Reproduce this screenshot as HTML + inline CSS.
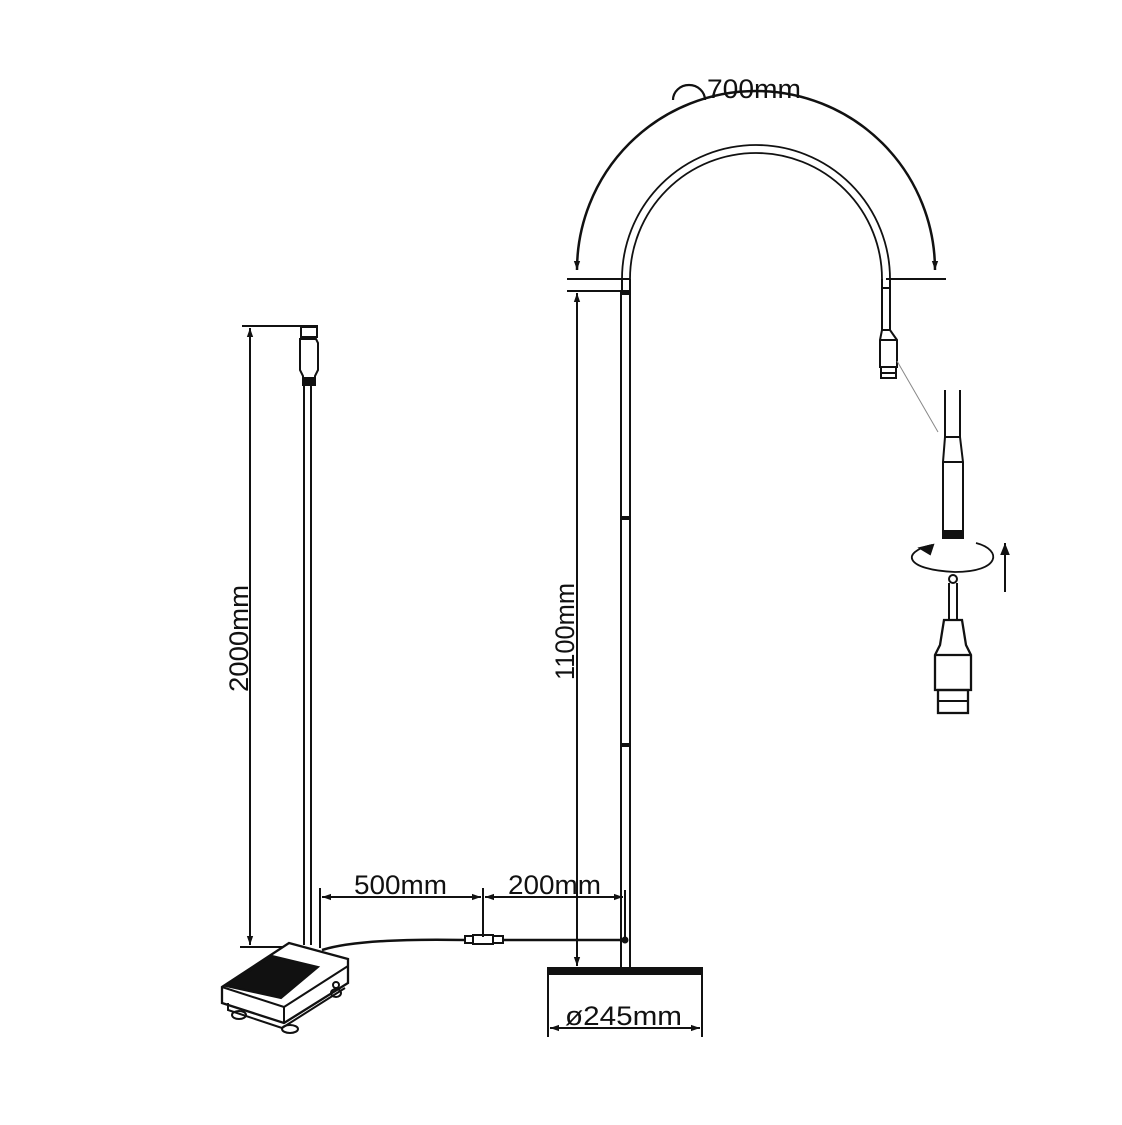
<!DOCTYPE html>
<html><head><meta charset="utf-8"><style>
html,body{margin:0;padding:0;background:#fff;}
svg{display:block;}
text{font-family:"Liberation Sans",sans-serif;fill:#111;}
</style></head><body>
<svg width="1122" height="1125" viewBox="0 0 1122 1125" xmlns="http://www.w3.org/2000/svg">
<defs>
<marker id="ar" viewBox="0 0 10 10" refX="10" refY="5" markerWidth="11" markerHeight="9" orient="auto-start-reverse" markerUnits="userSpaceOnUse"><path d="M0,1.5 L10,5 L0,8.5 z" fill="#111"/></marker>
<marker id="ar2" viewBox="0 0 10 10" refX="10" refY="5" markerWidth="16" markerHeight="12" orient="auto" markerUnits="userSpaceOnUse"><path d="M0,1 L10,5 L0,9 z" fill="#111"/></marker>
</defs>
<g stroke="#111" fill="none" stroke-width="2">
<path d="M577,270 A179,179 0 0 1 935,270" stroke-width="2.5" marker-start="url(#ar)" marker-end="url(#ar)"/>
<line x1="567" y1="279" x2="630" y2="279"/>
<line x1="886" y1="279" x2="946" y2="279"/>
<line x1="567" y1="291" x2="630" y2="291"/>
<path d="M673,100 A16,15 0 0 1 705,100" stroke-width="2.2"/>
<path d="M622,279 A134,134 0 0 1 890,279" stroke-width="1.8"/>
<path d="M630,279 A126,126 0 0 1 882,279" stroke-width="1.8"/>
<line x1="622" y1="279" x2="622" y2="291"/><line x1="630" y1="279" x2="630" y2="291"/>
<line x1="882" y1="279" x2="882" y2="330"/><line x1="890" y1="279" x2="890" y2="330"/>
<line x1="882" y1="288" x2="890" y2="288"/>
<path d="M882,330 L880,340 L880,367 L897,367 L897,340 L890,330 Z"/>
<line x1="880" y1="340" x2="897" y2="340"/>
<rect x="881" y="367" width="15" height="11"/>
<line x1="881" y1="373" x2="896" y2="373"/>
<line x1="621" y1="291" x2="621" y2="968"/><line x1="630" y1="291" x2="630" y2="968"/>
<line x1="621" y1="293" x2="630" y2="293" stroke-width="4"/>
<line x1="621" y1="518" x2="630" y2="518" stroke-width="4"/>
<line x1="621" y1="745" x2="630" y2="745" stroke-width="4"/>
<line x1="577" y1="293" x2="577" y2="966" marker-start="url(#ar)" marker-end="url(#ar)"/>
<rect x="548" y="968" width="154" height="6" fill="#111"/>
<line x1="548" y1="975" x2="548" y2="1037"/><line x1="702" y1="975" x2="702" y2="1037"/>
<line x1="550" y1="1028" x2="700" y2="1028" marker-start="url(#ar)" marker-end="url(#ar)"/>
<line x1="242" y1="326" x2="318" y2="326"/>
<line x1="240" y1="947" x2="300" y2="947"/>
<line x1="250" y1="328" x2="250" y2="945" marker-start="url(#ar)" marker-end="url(#ar)"/>
<rect x="301" y="327" width="16" height="10"/>
<path d="M300,339 L316,339 L318,343 L318,370 L315,376 L315,385 L303,385 L303,376 L300,370 L300,343 Z"/>
<rect x="304" y="378" width="10" height="7" fill="#111"/>
<line x1="304" y1="385" x2="304" y2="945"/><line x1="311" y1="385" x2="311" y2="945"/>
<line x1="320" y1="888" x2="320" y2="948"/>
<line x1="483" y1="888" x2="483" y2="937"/>
<line x1="625" y1="890" x2="625" y2="940"/>
<line x1="322" y1="897" x2="481" y2="897" marker-start="url(#ar)" marker-end="url(#ar)"/>
<line x1="485" y1="897" x2="623" y2="897" marker-start="url(#ar)" marker-end="url(#ar)"/>
<path d="M322,950 Q360,938 465,940" stroke-width="2.5"/>
<rect x="465" y="936" width="8" height="7"/><rect x="473" y="935" width="20" height="9"/><rect x="493" y="936" width="10" height="7"/>
<line x1="503" y1="940" x2="625" y2="940" stroke-width="2.5"/>
<circle cx="625" cy="940" r="2.5" fill="#111"/>
<path d="M222,987 L289,943 L348,959 L348,983 L284,1023 L222,1003 Z" fill="#fff" stroke-width="2.3"/>
<path d="M222,987 L284,1007 L348,966" />
<path d="M226,986 L272,956 L318,967 L281,998 Z" fill="#111"/>
<line x1="284" y1="1007" x2="284" y2="1023"/>
<path d="M228,1003 L228,1010 L282,1028 L345,988"/>
<ellipse cx="239" cy="1015" rx="7" ry="4"/><ellipse cx="290" cy="1029" rx="8" ry="4"/><ellipse cx="336" cy="993" rx="5" ry="4"/>
<circle cx="336" cy="985" r="3"/>
<line x1="897" y1="361" x2="938" y2="432" stroke="#888" stroke-width="1"/>
<line x1="945" y1="390" x2="945" y2="437"/><line x1="960" y1="390" x2="960" y2="437"/>
<path d="M945,437 L943,462 L943,532 L963,532 L963,462 L960,437 Z"/>
<line x1="945" y1="437" x2="960" y2="437"/><line x1="943" y1="462" x2="963" y2="462"/>
<rect x="943" y="531" width="20" height="7" fill="#111"/>
<path d="M932,545 C900,552 905,570 955,572 C1000,572 1003,550 976,543" stroke-width="1.8"/>
<path d="M933,545 L920,548 L930,554 z" fill="#111"/>
<line x1="1005" y1="592" x2="1005" y2="543" stroke-width="2" marker-end="url(#ar2)"/>
<circle cx="953" cy="579" r="4"/>
<line x1="949" y1="583" x2="949" y2="620"/><line x1="957" y1="583" x2="957" y2="620"/>
<path d="M944,620 L962,620 L966,645 L971,655 L971,690 L935,690 L935,655 L940,645 Z" stroke-width="2.3"/>
<line x1="935" y1="655" x2="971" y2="655" stroke-width="2.3"/>
<rect x="938" y="690" width="30" height="23" stroke-width="2.3"/>
<line x1="938" y1="701" x2="968" y2="701"/>
</g>
<g font-size="27">
<text x="707" y="98" textLength="94" lengthAdjust="spacingAndGlyphs">700mm</text>
<text x="354" y="894" textLength="93" lengthAdjust="spacingAndGlyphs">500mm</text>
<text x="508" y="894" textLength="93" lengthAdjust="spacingAndGlyphs">200mm</text>
<text x="565" y="1025" textLength="117" lengthAdjust="spacingAndGlyphs">ø245mm</text>
<text transform="translate(574,680) rotate(-90)" x="0" y="0" textLength="97" lengthAdjust="spacingAndGlyphs">1100mm</text>
<text transform="translate(248,692) rotate(-90)" x="0" y="0" textLength="107" lengthAdjust="spacingAndGlyphs">2000mm</text>
</g>
</svg>
</body></html>
